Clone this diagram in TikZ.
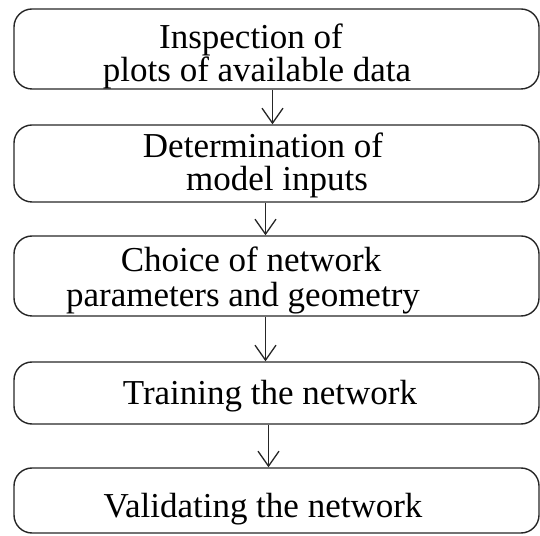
\documentclass[tikz,border=0pt]{standalone}
\usepackage{fontspec}
\setmainfont{Liberation Serif}
\usetikzlibrary{arrows.meta}
\begin{document}
\begin{tikzpicture}[x=1pt,y=1pt,
  stagebox/.style={draw=black!85, line width=1.4pt, rounded corners=18pt,
    rectangle, inner sep=0pt, minimum width=525pt},
  txt/.style={anchor=base, inner sep=0pt, font=\fontsize{35}{40}\selectfont},
  flow/.style={draw=black!85, line width=1.3pt,
    -{Straight Barb[length=15pt,width=21pt,line width=1.3pt]}}]
\useasboundingbox (0,0) rectangle (540,535);

% stage boxes
\node[stagebox, minimum height=80pt] (b1) at (276.5,486) {};
\node[stagebox, minimum height=77pt] (b2) at (276.5,371.5) {};
\node[stagebox, minimum height=80pt] (b3) at (276.5,259) {};
\node[stagebox, minimum height=62pt] (b4) at (276.5,142) {};
\node[stagebox, minimum height=65pt] (b5) at (276.5,34.5) {};

% box texts
\node[txt] (t1a) at (251,486.5) {Inspection of};
\node[txt] (t1b) at (257,453.5) {plots of available data};
\node[txt] (t2a) at (263,377) {Determination of};
\node[txt] (t2b) at (277,344) {model inputs};
\node[txt] (t3a) at (251,263) {Choice of network};
\node[txt] (t3b) at (243,228) {parameters and geometry};
\node[txt] (t4)  at (270,130) {Training the network};
\node[txt] (t5)  at (263,18)  {Validating the network};

% connectors
\draw[flow] ([xshift=-4pt]b1.south) -- ([xshift=-4pt]b2.north);
\draw[flow] ([xshift=-11pt]b2.south) -- ([xshift=-11pt]b3.north);
\draw[flow] ([xshift=-11pt]b3.south) -- ([xshift=-11pt]b4.north);
\draw[flow] ([xshift=-8pt]b4.south) -- ([xshift=-8pt]b5.north);
\end{tikzpicture}
\end{document}
